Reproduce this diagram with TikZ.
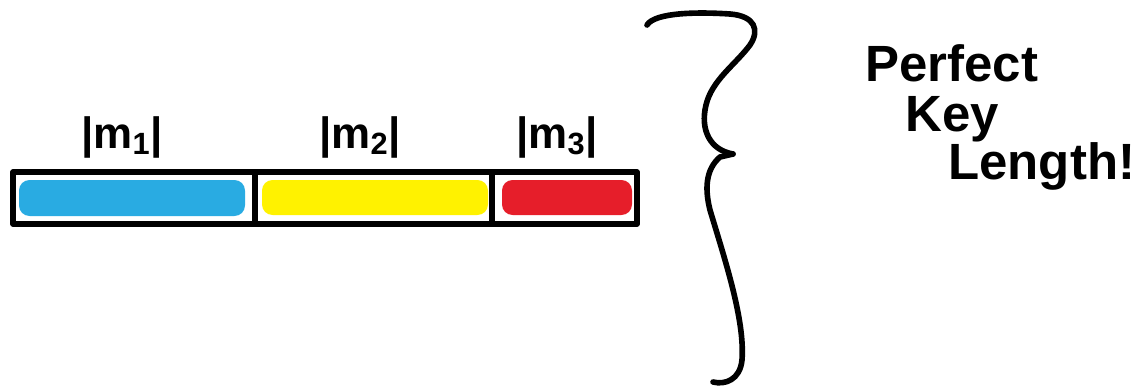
\documentclass[tikz,border=0pt]{standalone}
\usepackage{fontspec}
\setmainfont{Liberation Sans}
\definecolor{cblue}{HTML}{29ABE2}
\definecolor{cyellow}{HTML}{FFF200}
\definecolor{cred}{HTML}{E61E2A}
\begin{document}
\begin{tikzpicture}[x=0.02cm,y=-0.02cm,line cap=round,line join=round]
\tikzset{
  ink/.style={line width=3.2pt,draw=black},
  blob/.style={rounded corners=6pt},
  lbl/.style={font=\bfseries\fontsize{25}{30}\selectfont,anchor=base,inner sep=0pt},
  big/.style={font=\bfseries\fontsize{29}{36}\selectfont,anchor=base west,inner sep=0pt,
    text height=0.72em,text depth=0.05em}
}
\useasboundingbox (0,0) rectangle (1134,389);
% coloured scribble fills
\fill[cblue,blob] (19,180) rectangle (245,216);
\fill[cyellow,blob] (262,180) rectangle (488,215);
\fill[cred,blob] (502,180) rectangle (632,215);
% bar outline and dividers
\coordinate (tl) at (13,172);
\coordinate (br) at (637,224);
\coordinate (d1t) at (255,172);
\coordinate (d1b) at (255,224);
\coordinate (d2t) at (492,172);
\coordinate (d2b) at (492,224);
\draw[ink] (tl) rectangle (br);
\draw[ink] (d1t) -- (d1b);
\draw[ink] (d2t) -- (d2b);
% labels
\node[lbl] (m1) at (122,148) {|m\textsubscript{1}|};
\node[lbl] (m2) at (360,148) {|m\textsubscript{2}|};
\node[lbl] (m3) at (557,148) {|m\textsubscript{3}|};
% brace
\draw[ink] (647,25) .. controls (655,12) and (700,12) .. (730,14)
  .. controls (755,16) and (760,30) .. (750,45)
  .. controls (735,65) and (712,80) .. (706,105)
  .. controls (700,130) and (710,150) .. (733,154);
\draw[ink] (733,154) -- (720,157)
  .. controls (705,170) and (705,190) .. (710,210)
  .. controls (725,260) and (745,320) .. (742,360)
  .. controls (740,380) and (725,385) .. (713,382);
% text
\node[big] (t1) at (865,81) {Perfect};
\node[big] (t2) at (905,131) {Key};
\node[big] (t3) at (948,179) {Length!};
\end{tikzpicture}
\end{document}
